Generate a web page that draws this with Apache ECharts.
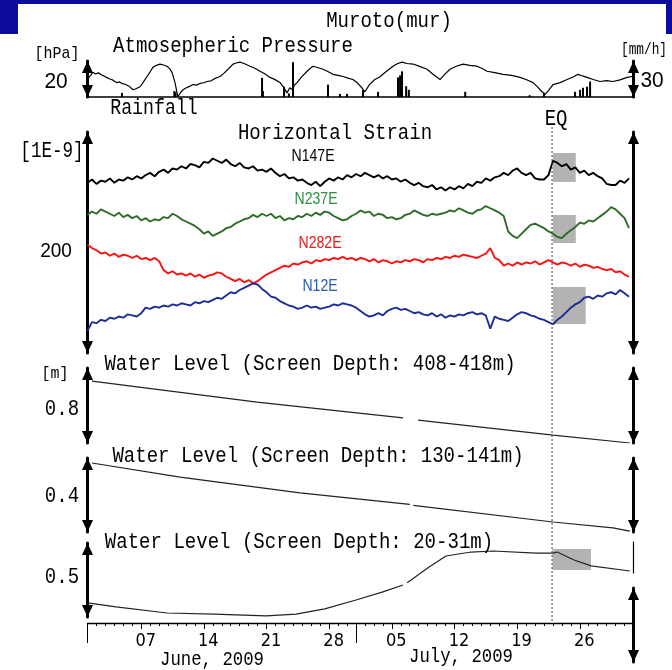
<!DOCTYPE html>
<html><head><meta charset="utf-8">
<script src="https://cdn.jsdelivr.net/npm/echarts@6/dist/echarts.min.js"></script>
<style>html,body{margin:0;padding:0;background:#fff}#c{width:672px;height:670px}</style>
</head><body><div id="c"></div>
<script>
// ---------------- DATA ----------------
// time unit: days since 2009-06-01 00:00 (axis spans June 1 .. July 31)
const totalDays = 61;
const tickDayIndex = [6, 13, 20, 27, 34, 41, 48, 55];
const tickLabels = ['07', '14', '21', '28', '05', '12', '19', '26'];
const monthStartIndex = [0, 30];
const eqDay = 51.9;

// atmospheric pressure [day, hPa relative]
const pressure = [[0.0,8.5],[0.1,10.5],[0.35,12.0],[0.6,13.7],[0.9,12.8],[1.2,13.4],[1.4,12.6],[1.7,12.0],[2.0,11.2],[2.2,10.9],[2.5,10.0],[2.8,9.5],[3.05,8.6],[3.3,8.0],[3.6,8.4],[3.9,7.4],[4.2,7.1],[4.41,6.9],[4.7,5.8],[5.08,4.0],[5.4,4.6],[5.87,5.7],[6.2,8.0],[6.65,11.4],[7.0,14.0],[7.32,16.6],[7.7,17.6],[8.1,18.3],[8.5,17.8],[8.88,17.1],[9.2,15.6],[9.44,13.7],[9.6,11.0],[9.78,8.0],[10.0,2.3],[10.1,0.2],[10.4,2.5],[10.67,4.0],[11.0,5.0],[11.4,5.9],[11.79,6.9],[12.2,6.6],[12.6,7.6],[13.0,7.9],[13.35,8.6],[13.8,9.0],[14.2,10.2],[14.8,11.4],[15.2,13.0],[15.7,15.4],[16.26,18.3],[16.6,18.9],[17.04,19.4],[17.5,18.6],[18.16,17.1],[18.7,16.0],[19.27,14.3],[19.8,12.9],[20.39,10.9],[20.9,9.8],[21.51,8.0],[21.9,5.5],[22.29,2.3],[22.6,5.1],[22.9,4.0],[23.1,6.5],[23.41,8.0],[23.9,11.0],[24.53,14.3],[24.9,16.0],[25.2,17.1],[25.7,16.4],[26.31,15.4],[26.9,14.0],[27.43,12.6],[28.0,12.0],[28.55,11.4],[29.1,10.5],[29.66,9.7],[30.2,7.6],[30.67,5.0],[31.0,2.9],[31.5,6.9],[32.1,9.7],[32.6,11.0],[33.2,13.5],[34.13,17.1],[34.6,18.5],[35.14,19.4],[35.7,18.6],[36.37,18.3],[37.1,17.0],[37.93,15.4],[38.6,12.6],[39.39,9.7],[39.9,12.6],[40.5,15.4],[41.2,17.1],[41.96,18.3],[42.7,17.6],[43.52,17.1],[44.1,15.8],[44.64,14.3],[45.5,13.5],[46.42,12.6],[47.4,12.0],[48.32,10.9],[49.0,9.7],[49.78,8.0],[50.3,5.5],[50.78,2.9],[51.12,1.5],[51.5,3.5],[52.01,6.9],[52.8,8.0],[53.58,9.7],[54.2,11.0],[54.8,12.6],[55.3,11.7],[55.81,10.9],[56.5,9.7],[57.26,8.6],[58.0,9.1],[58.72,8.6],[59.5,9.5],[60.28,10.9],[60.84,11.4]];

// rainfall [day, mm/h]
const rainfall = [[3.85,3.4],[9.7,5],[9.85,4],[19.5,16],[19.6,5],[21.96,8.6],[22.5,3],[22.96,29],[26.87,10.3],[28.2,2.6],[29.0,2.6],[30.78,6],[32.46,4.3],[34.69,16.3],[34.92,18],[35.14,21.4],[35.6,9],[35.9,6],[42.2,4.3],[49.4,1.5],[51.0,3],[54.47,4.3],[55.03,6],[55.36,7.7],[55.81,8.6],[56.15,12.9]];

// horizontal strain [1E-9], one value every half day from June 1
const strainStep = 0.5;
const strainN147E = [154,157,153,156,155,158,154,157,156,159,157,160,158,161,163,160,164,166,163,167,166,169,167,171,170,168,173,172,176,174,172,175,171,169,172,168,167,169,165,166,164,167,163,160,162,158,159,156,157,154,152,155,151,155,158,156,159,157,161,159,162,160,163,161,159,161,158,160,157,158,155,157,154,152,154,151,150,152,148,150,147,150,148,151,149,153,151,155,154,158,156,159,160,163,161,165,167,163,161,163,158,157,157,161,174,172,169,171,166,168,163,165,161,163,160,158,153,152,152,156,154,158];
const strainN237E = [125,128,126,130,128,126,124,127,123,125,122,124,120,122,119,121,120,123,122,126,124,121,119,117,115,112,108,110,106,108,110,113,114,117,119,121,122,125,123,126,124,126,122,124,120,122,121,124,123,126,124,127,125,128,127,124,122,120,121,124,126,129,127,128,124,126,125,122,123,121,122,125,126,129,127,125,124,126,125,126,127,129,128,131,129,127,126,129,130,133,131,129,127,124,110,106,104,108,112,116,117,115,113,110,108,105,104,108,111,114,118,117,120,119,122,125,128,132,130,126,122,113];
const strainN282E = [98,95,93,90,91,88,90,87,89,88,86,88,85,86,84,86,83,75,72,74,71,72,70,72,69,71,68,70,71,73,72,69,67,65,67,64,66,63,65,68,71,73,75,77,79,78,81,80,82,83,81,84,83,85,84,86,85,87,85,86,84,86,85,83,85,82,84,83,81,83,82,84,83,85,84,82,85,84,86,85,87,86,88,87,89,88,87,86,88,90,95,86,84,79,81,79,82,80,82,81,83,80,82,84,82,80,82,81,79,81,78,80,79,77,78,76,75,76,73,74,71,69];
const strainN12E = [20,28,27,30,29,32,31,33,32,35,34,33,36,41,40,42,41,43,42,44,43,45,44,43,46,45,47,46,48,50,49,52,55,54,57,59,61,63,62,58,55,51,50,47,45,43,42,40,41,43,41,42,40,41,42,44,43,45,44,43,41,38,35,33,34,36,34,38,40,41,39,40,38,36,37,35,34,36,33,35,32,34,33,35,34,36,37,35,36,34,22,33,31,30,29,32,35,37,36,34,33,31,30,28,26,30,33,37,41,44,46,50,51,49,52,51,54,55,53,57,54,51];

// water levels [day, m relative]
const wl408 = [[0.5,0.661],[18.94,0.437],[35.25,0.267],[36.1,null],[36.93,0.245],[52.01,0.085],[60.6,0.0]];
const wl130 = [[0.5,0.373],[10.34,0.297],[23.74,0.211],[36.0,0.149],[36.2,null],[36.4,0.144],[52.0,0.054],[58.7,0.022],[60.6,0.005]];
const wl20 = [[0.0,0.095],[3.18,0.068],[8.88,0.027],[14.13,0.020],[19.94,0.007],[23.3,0.020],[26.5,0.055],[30.0,0.115],[33.0,0.17],[35.25,0.216],[35.5,null],[35.7,0.232],[36.15,0.250],[38.16,0.338],[40.06,0.412],[42.85,0.439],[45.3,0.446],[50.11,0.432],[52.0,0.432],[52.46,0.439],[54.36,0.385],[56.26,0.345],[60.6,0.311]];

// highlighted post-EQ windows [dayStart, dayEnd, low, high]
const strainBoxes = [[52.0,54.55,154.8,181],[52.0,54.55,99.5,124.9],[52.0,55.66,26.2,59.7]];
const wl20Boxes = [[51.95,56.25,0.318,0.459]];

// ---------------- CHART ----------------
const chart = echarts.init(document.getElementById('c'));
const GL = 87.5, GR = 38.5;
const MONO = "'Liberation Mono','DejaVu Sans Mono',monospace";
const SANS = "'Liberation Sans','Arimo',sans-serif";
const NARROW = "'Liberation Sans Narrow','DejaVu Sans Condensed','Liberation Sans',sans-serif";

const grids = [
  {left:GL, right:GR, top:61, height:36},   // 0 pressure / rain
  {left:GL, right:GR, top:132, height:221}, // 1 strain
  {left:GL, right:GR, top:368, height:75},  // 2 WL 408-418
  {left:GL, right:GR, top:458, height:74},  // 3 WL 130-141
  {left:GL, right:GR, top:543, height:74},  // 4 WL 20-31
  {left:GL, right:GR, top:543, height:80},  // 5 date axis
  {left:GL, right:GR, top:588, height:74},  // 6 right scale arrow of WL 20-31
  {left:GL, right:GR, top:542, height:31}   // 7 thin right marker of WL 20-31
];

function xV(g, line) {
  return {type:'value', gridIndex:g, min:0, max:totalDays,
    axisLine:{show:!!line, onZero:false, lineStyle:{color:'#000', width:1.5}},
    axisTick:{show:false}, axisLabel:{show:false}, splitLine:{show:false}};
}
function yA(g, pos, min, max, mode) {
  const arrows = mode === 'arrow';
  return {type:'value', gridIndex:g, position:pos, min:min, max:max,
    axisLine:{show:mode !== 'none', onZero:false,
      symbol: arrows ? ['triangle','triangle'] : 'none',
      symbolSize:[11,12], symbolOffset:[6,-6],
      lineStyle:{color:'#000', width: arrows ? 3 : 1.2}},
    axisTick:{show:false}, axisLabel:{show:false}, splitLine:{show:false}};
}
const dayCats = Array.from({length: totalDays}, (_, i) => i);
function xCat(interval, len, line, labels) {
  return {type:'category', gridIndex:5, data:dayCats, boundaryGap:true, position:'bottom',
    axisLine:{show:line, onZero:false, lineStyle:{color:'#000', width:1.3}},
    axisTick:{show:true, alignWithLabel:false, interval:interval, length:len, lineStyle:{color:'#000', width:1}},
    axisLabel:{show:labels, interval:(i) => tickDayIndex.indexOf(i) >= 0,
      formatter:(v) => tickLabels[tickDayIndex.indexOf(Number(v))] || '',
      color:'#000', fontSize:18, fontFamily:NARROW, margin:9},
    splitLine:{show:false}};
}

const xAxes = [xV(0, true), xV(1), xV(2), xV(3), xV(4),
  xCat(0, 3, true, true),
  xCat((i) => tickDayIndex.indexOf(i) >= 0, 6, false, false),
  xCat((i) => monthStartIndex.indexOf(i) >= 0, 20, false, false),
  xV(6), xV(7)];
const yAxes = [
  yA(0,'left',0,20,'arrow'), yA(0,'right',0,30,'arrow'),
  yA(1,'left',0,200,'arrow'), yA(1,'right',0,200,'arrow'),
  yA(2,'left',0,0.8,'arrow'), yA(2,'right',0,0.8,'arrow'),
  yA(3,'left',0,0.4,'arrow'), yA(3,'right',0,0.4,'arrow'),
  yA(4,'left',0,0.5,'arrow'),
  yA(5,'left',0,1,'none'),
  yA(6,'right',0,0.5,'arrow'),
  yA(7,'right',0,1,'line')
];

const halfDay = (arr) => arr.map((v, i) => [i * strainStep, v]);
function lineS(xi, yi, data, color, w) {
  return {type:'line', xAxisIndex:xi, yAxisIndex:yi, data:data, showSymbol:false, symbol:'none',
    connectNulls:false, z:3, silent:true, lineStyle:{color:color, width:w, join:'bevel'}, itemStyle:{color:color}};
}
function boxS(xi, yi, data) {
  return {type:'custom', xAxisIndex:xi, yAxisIndex:yi, data:data, z:1, silent:true, clip:false,
    encode:{x:[0,1], y:[2,3]},
    renderItem:(params, api) => {
      const p0 = api.coord([api.value(0), api.value(3)]);
      const p1 = api.coord([api.value(1), api.value(2)]);
      return {type:'rect', shape:{x:p0[0], y:p0[1], width:p1[0]-p0[0], height:p1[1]-p0[1]}, style:{fill:'#b3b3b3'}};
    }};
}

const series = [
  {type:'bar', xAxisIndex:0, yAxisIndex:1, data:rainfall, barWidth:2, silent:true, itemStyle:{color:'#000'}, z:2},
  lineS(0, 0, pressure, '#000', 1.2),
  boxS(1, 2, strainBoxes),
  lineS(1, 2, halfDay(strainN147E), '#000', 1.9),
  lineS(1, 2, halfDay(strainN237E), '#2f6a28', 1.9),
  lineS(1, 2, halfDay(strainN282E), '#ff1010', 1.9),
  lineS(1, 2, halfDay(strainN12E), '#1d2c98', 1.9),
  lineS(2, 4, wl408, '#222', 1.2),
  lineS(3, 6, wl130, '#222', 1.2),
  boxS(4, 8, wl20Boxes),
  lineS(4, 8, wl20, '#222', 1.2),
  {type:'line', xAxisIndex:5, yAxisIndex:9, data:[], silent:true}
];

chart.setOption({animation:false, backgroundColor:'#fff', grid:grids, xAxis:xAxes, yAxis:yAxes, series:series});

function T(text, x, y, fs, ff, sx, color) {
  return {type:'text', x:x, y:y, scaleX:sx, z:100, silent:true,
    style:{text:text, fontSize:fs, fontFamily:ff, fill:color || '#000',
      textAlign:'center', textVerticalAlign:'middle', align:'center', verticalAlign:'middle'}};
}
const eqX = chart.convertToPixel({xAxisIndex:1}, eqDay);
const SX = 0.865;
const graphic = [
  {type:'rect', shape:{x:0, y:0, width:672, height:4}, style:{fill:'#0c0c9c'}, z:100, silent:true},
  {type:'rect', shape:{x:0, y:0, width:18, height:34}, style:{fill:'#0c0c9c'}, z:100, silent:true},
  {type:'rect', shape:{x:666, y:0, width:6, height:34}, style:{fill:'#0c0c9c'}, z:100, silent:true},
  {type:'line', shape:{x1:eqX, y1:127, x2:eqX, y2:623}, style:{stroke:'#444', lineWidth:1, lineDash:[2,2]}, z:50, silent:true},
  T('Muroto(mur)', 389, 21, 22, MONO, SX),
  T('Atmosepheric Pressure', 233, 46, 22, MONO, SX),
  T('[hPa]', 57, 53, 17, MONO, 0.88),
  T('[mm/h]', 644, 50, 16, MONO, 0.8),
  T('20', 56, 82, 22, SANS, 0.95),
  T('30', 652, 81, 22, SANS, 0.95),
  T('Rainfall', 154, 108, 22, MONO, 0.83),
  T('EQ', eqX + 4, 119, 22, MONO, SX),
  T('Horizontal Strain', 335, 133, 22, MONO, SX),
  T('[1E-9]', 52, 151, 22, MONO, 0.8),
  T('N147E', 313, 157, 16, SANS, 0.88, '#000'),
  T('N237E', 316, 200, 16, SANS, 0.88, '#2d8c46'),
  T('200', 56, 251, 20, SANS, 0.95),
  T('N282E', 320, 244, 16, SANS, 0.88, '#e02020'),
  T('N12E', 320, 287, 16, SANS, 0.88, '#2a5aa8'),
  T('[m]', 55, 373, 17, MONO, 0.88),
  T('Water Level (Screen Depth: 408-418m)', 310, 364, 22, MONO, SX),
  T('0.8', 62, 409, 22, MONO, SX),
  T('Water Level (Screen Depth: 130-141m)', 318, 456, 22, MONO, SX),
  T('0.4', 62, 496, 22, MONO, SX),
  T('Water Level (Screen Depth: 20-31m)', 299, 542, 22, MONO, SX),
  T('0.5', 62, 577, 22, MONO, SX),
  T('June, 2009', 212, 660, 20, MONO, SX),
  T('July, 2009', 461, 657, 20, MONO, SX)
];
chart.setOption({graphic: graphic});
</script>
</body></html>
